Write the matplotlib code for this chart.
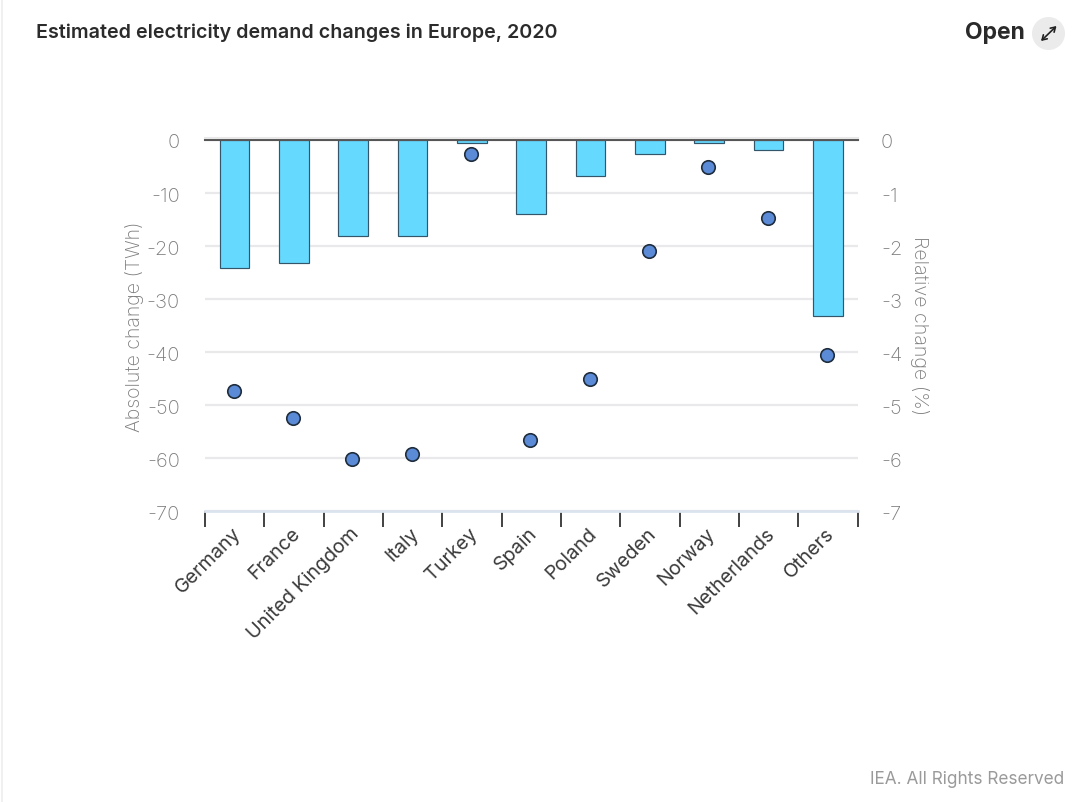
import numpy as np
import matplotlib
matplotlib.use("Agg")
import matplotlib.pyplot as plt
from matplotlib.patches import Circle
from matplotlib.lines import Line2D
from matplotlib.transforms import ScaledTranslation

categories = ["Germany", "France", "United Kingdom", "Italy", "Turkey", "Spain",
              "Poland", "Sweden", "Norway", "Netherlands", "Others"]
absolute_twh = [-24.2, -23.3, -18.1, -18.1, -0.7, -14.0, -6.9, -2.7, -0.7, -2.0, -33.2]
relative_pct = [-4.74, -5.25, -6.02, -5.92, -0.27, -5.66, -4.51, -2.10, -0.52, -1.48, -4.06]
left_ticks = [0, -10, -20, -30, -40, -50, -60, -70]
right_ticks = [0, -1, -2, -3, -4, -5, -6, -7]

W, H = 1083, 802
plt.rcParams['font.family'] = ['Inter', 'DejaVu Sans']
fig = plt.figure(figsize=(W / 100, H / 100), dpi=100, facecolor='white')
L, R, T, B = 205, 857.5, 139.5, 511
ax = fig.add_axes([L / W, 1 - B / H, (R - L) / W, (B - T) / H])
n = len(categories)
x = np.arange(n)
GRAY = '#7d7d7d'
down2 = ScaledTranslation(0, -2 / 100, fig.dpi_scale_trans)

ax.set_xlim(-0.5, n - 0.5)
ax.set_ylim(-70, 0)
ax.set_axisbelow(True)
ax.yaxis.grid(True, color='#e9e9ec', lw=1.6)
ax.bar(x, absolute_twh, width=0.5, color='#66d9ff', edgecolor='#33566a', lw=0.85, zorder=2)
for s in ['left', 'right']:
    ax.spines[s].set_visible(False)
ax.spines['top'].set_color('#555555')
ax.spines['top'].set_linewidth(1.5)
ax.spines['top'].set_zorder(4)
ax.spines['bottom'].set_color('#dbe3ee')
ax.spines['bottom'].set_linewidth(2)

ax.set_yticks(left_ticks)
ax.set_yticklabels([str(t) for t in left_ticks], fontsize=14.5, color=GRAY, fontweight='light')
ax.tick_params(axis='y', length=0, pad=18)
for lab in ax.get_yticklabels():
    lab.set_transform(lab.get_transform() + down2)
ax.set_xticks(np.arange(n + 1) - 0.5)
ax.set_xticklabels([])
ax.tick_params(axis='x', which='major', length=11.5, width=1.3, color='#333333', direction='out')
ax.set_xticks(x, minor=True)
ax.set_xticklabels(categories, minor=True, rotation=45, ha='right', va='top',
                   rotation_mode='anchor', fontsize=14.2, color='#3a3a3a')
ax.tick_params(axis='x', which='minor', length=0, pad=10)
left3 = ScaledTranslation(-3 / 100, 0, fig.dpi_scale_trans)
for lab in ax.get_xticklabels(minor=True):
    lab.set_transform(lab.get_transform() + left3)
ax.set_ylabel("Absolute change (TWh)", fontsize=14.05, color=GRAY, fontweight='light', va='center')
ax.yaxis.set_label_coords((134 - L) / (R - L), 0.497)

ax2 = ax.twinx()
ax2.set_ylim(-7, 0)
ax2.set_yticks(right_ticks)
ax2.set_yticklabels([str(t) for t in right_ticks], fontsize=14.5, color=GRAY, fontweight='light')
ax2.tick_params(axis='y', length=0, pad=17)
for lab in ax2.get_yticklabels():
    lab.set_transform(lab.get_transform() + down2)
for s in ax2.spines.values():
    s.set_visible(False)
left1 = ScaledTranslation(-1 / 100, 0, fig.dpi_scale_trans)
ax2.scatter(x, relative_pct, s=94, color='#5b8ad6', edgecolor='#1f2d3d', lw=1.2, zorder=5, clip_on=False,
            transform=ax2.transData + left1)
ax2.set_ylabel("Relative change (%)", fontsize=14.2, color=GRAY, rotation=270, fontweight='light',
               va='center', ha='center')
ax2.yaxis.set_label_coords((919 - L) / (R - L), 0.5)

fig.text(36 / W, 1 - 32.5 / H, "Estimated electricity demand changes in Europe, 2020",
         fontsize=14.15, fontweight='semibold', color='#2b2b2b', va='center', ha='left')
fig.text(1025 / W, 1 - 33 / H, "Open", fontsize=16.5, fontweight='bold', color='#2a2a2a', va='center', ha='right')
fig.text(1064 / W, 1 - 779.5 / H, "IEA. All Rights Reserved", fontsize=12.4, color='#9a9a9a', va='center', ha='right')

overlay = fig.add_axes([0, 0, 1, 1], facecolor='none')
overlay.set_xlim(0, W)
overlay.set_ylim(H, 0)
overlay.axis('off')
overlay.add_patch(Circle((1048.5, 33.5), 16.5, color='#ebebeb', lw=0))
overlay.annotate("", xy=(1056.5, 26), xytext=(1041, 41),
                 arrowprops=dict(arrowstyle='<->,head_length=0.32,head_width=0.2', color='#222222',
                                 lw=1.2, shrinkA=0, shrinkB=0))
overlay.add_line(Line2D([2, 2], [0, H], color='#ededed', lw=1.2))
overlay.add_line(Line2D([L, R], [138, 138], color='#e8e8e8', lw=1.5))
fig.savefig('out.png', dpi=100, facecolor='white')
